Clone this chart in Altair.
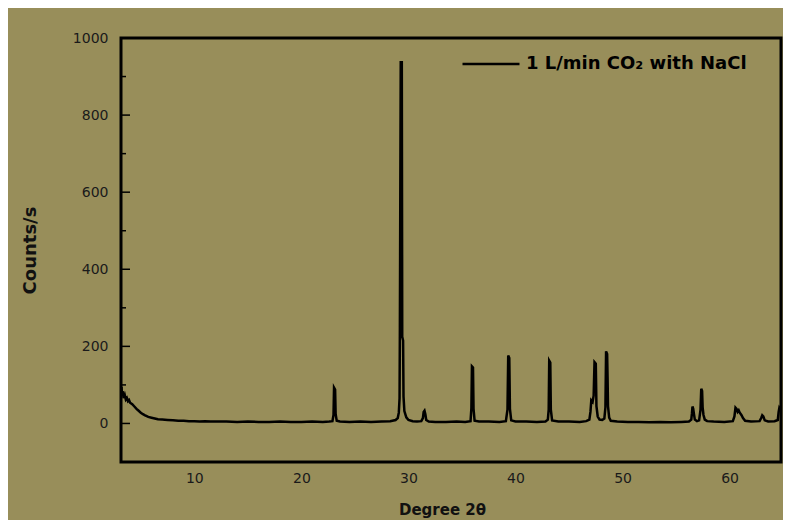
import altair as alt
import pandas as pd

# ---- data (2-theta in degrees, counts/s) ----
two_theta = [
    3.2, 3.25, 3.3, 3.4, 3.5, 3.6, 3.7, 3.8, 3.9, 4.0, 4.2, 4.4, 4.6, 4.8, 5.0, 5.2, 5.4, 5.7,
    6.0, 6.3, 6.6, 7.0, 7.5, 8.0, 8.5, 9.0, 9.5, 10.0, 10.5, 11.0, 11.5, 12.0, 13.0, 14.0,
    15.0, 16.0, 17.0, 18.0, 19.0, 20.0, 21.0, 22.0, 22.6, 22.9, 23.0, 23.05, 23.15, 23.2,
    23.3, 23.6, 24.5, 25.5, 26.5, 27.5, 28.3, 28.8, 29.0, 29.1, 29.17, 29.2, 29.28, 29.38,
    29.42, 29.5, 29.54, 29.62, 29.8, 30.0, 30.4, 30.8, 31.2, 31.35, 31.42, 31.5, 31.58,
    31.66, 31.9, 32.5, 33.5, 34.5, 35.3, 35.8, 35.88, 35.93, 36.03, 36.08, 36.18, 36.6,
    37.5, 38.5, 39.1, 39.25, 39.32, 39.42, 39.48, 39.6, 40.0, 41.0, 42.0, 42.8, 43.02,
    43.1, 43.15, 43.25, 43.3, 43.42, 44.0, 45.0, 46.0, 46.6, 46.9, 47.0, 47.08, 47.2, 47.3,
    47.38, 47.5, 47.56, 47.68, 47.85, 48.1, 48.3, 48.4, 48.46, 48.56, 48.6, 48.64, 48.75,
    48.9, 49.5, 50.5, 51.5, 52.5, 53.5, 54.5, 55.5, 56.2, 56.42, 56.48, 56.53, 56.6, 56.66,
    56.75, 56.95, 57.15, 57.28, 57.35, 57.43, 57.48, 57.56, 57.68, 57.9, 58.5, 59.5, 60.3,
    60.45, 60.55, 60.65, 60.75, 60.85, 60.95, 61.1, 61.25, 61.45, 62.0, 62.8, 62.95, 63.05,
    63.15, 63.28, 63.6, 64.2, 64.5, 64.58, 64.65, 64.78, 64.88, 65.0,
]
counts = [
    95, 72, 84, 66, 74, 62, 66, 58, 61, 54, 50, 44, 38, 33, 28, 24, 21, 17,
    15, 13, 11, 10, 9, 8, 7, 7, 6, 6, 5, 6, 5, 5, 5, 4,
    5, 4, 4, 5, 4, 4, 5, 4, 5, 6, 22, 93, 88, 24,
    7, 5, 4, 5, 4, 5, 6, 9, 14, 28, 65, 250, 937, 937,
    225, 215, 70, 32, 16, 9, 6, 5, 6, 14, 30, 33, 24,
    9, 5, 4, 4, 5, 4, 6, 40, 148, 145, 38, 7, 5,
    5, 4, 6, 36, 176, 170, 38, 8, 5, 5, 4, 5, 10,
    36, 163, 158, 36, 8, 5, 5, 4, 6, 10, 30, 60, 56, 72,
    159, 155, 45, 18, 10, 9, 13, 42, 187, 180, 120, 45, 15,
    7, 5, 4, 4, 3, 4, 3, 4, 5, 10, 26, 44, 38, 26,
    10, 6, 8, 35, 90, 84, 42, 22, 10, 6, 5, 4, 6,
    18, 41, 38, 30, 34, 28, 22, 14, 7, 5, 6, 14, 21,
    18, 8, 5, 6, 9, 30, 41, 36, 40, 30,
]
series_name = "1 L/min CO\u2082 with NaCl"
x_tick_values = [10, 20, 30, 40, 50, 60]
y_tick_values = [0, 200, 400, 600, 800, 1000]
y_minor_values = [100, 300, 500, 700, 900]

df = pd.DataFrame({"two_theta": two_theta, "counts": counts, "series": series_name})
major_df = pd.DataFrame({"value": y_tick_values})
minor_df = pd.DataFrame({"value": y_minor_values})

BG = "#988e5a"
FONT = "DejaVu Sans"

x_scale = alt.Scale(domain=[3.15, 64.8], nice=False, zero=False)
y_scale = alt.Scale(domain=[-100, 1000], nice=False, zero=False)

y_axis = alt.Axis(
    title="Counts/s", values=y_tick_values, format="d", ticks=False, tickSize=0, domain=False,
    grid=False, labelFont=FONT, labelFontSize=14, labelColor="#1a1a1a", labelPadding=13,
    titleFont=FONT, titleFontSize=18, titleFontWeight="bold", titleColor="#111111",
    titlePadding=33,
)
x_axis = alt.Axis(
    title="Degree 2\u03b8", values=x_tick_values, format="d", ticks=False, tickSize=0,
    domain=False, grid=False, labelFont=FONT, labelFontSize=14, labelColor="#1a1a1a",
    labelPadding=9, titleFont=FONT, titleFontSize=15, titleFontWeight="bold",
    titleColor="#111111", titlePadding=17, titleX=321,
)

line = alt.Chart(df).mark_line(strokeWidth=2.5, clip=True).encode(
    x=alt.X("two_theta:Q", scale=x_scale, axis=x_axis),
    y=alt.Y("counts:Q", scale=y_scale, axis=y_axis),
    color=alt.Color(
        "series:N",
        scale=alt.Scale(domain=[series_name], range=["#000000"]),
        legend=alt.Legend(
            title=None, orient="none", legendX=340, legendY=-4, padding=0,
            symbolType="stroke", symbolSize=3249, symbolStrokeWidth=2.5,
            labelFont=FONT, labelFontSize=18, labelFontWeight="bold", labelColor="#000000",
            labelOffset=5, labelLimit=400,
        ),
    ),
)

major_ticks = alt.Chart(major_df).mark_rule(color="black", strokeWidth=1.5).encode(
    y=alt.Y("value:Q", scale=y_scale, axis=y_axis),
    x=alt.value(0), x2=alt.value(9),
)
minor_ticks = alt.Chart(minor_df).mark_rule(color="black", strokeWidth=1.5).encode(
    y=alt.Y("value:Q", scale=y_scale, axis=y_axis),
    x=alt.value(0), x2=alt.value(5),
)

chart = alt.layer(line, major_ticks, minor_ticks).properties(
    width=660, height=424,
    background=BG,
    autosize=alt.AutoSizeParams(type="none"),
    padding={"left": 113, "top": 30, "right": 2, "bottom": 58},
).configure_view(stroke="black", strokeWidth=3, fill=BG)

chart.save("out.html", embed_options={"renderer": "svg", "actions": False})
